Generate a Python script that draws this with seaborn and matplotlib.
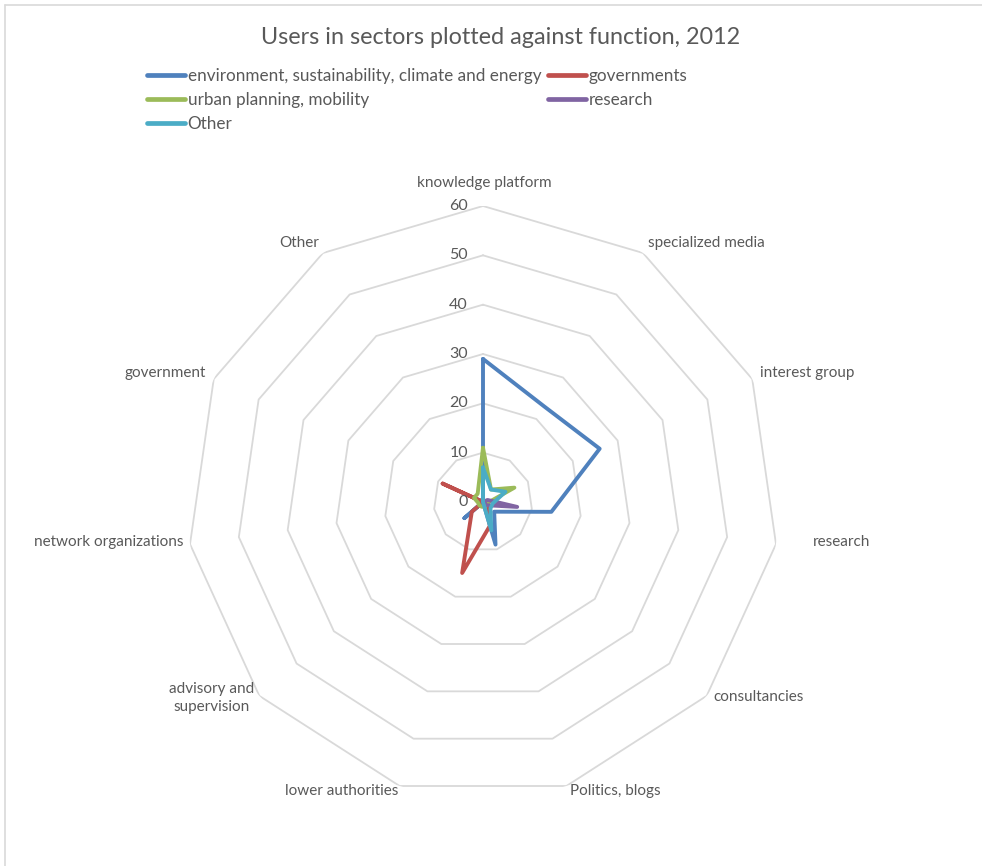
import numpy as np
import pandas as pd
import matplotlib
matplotlib.use("Agg")
import matplotlib.pyplot as plt
import seaborn as sns
from matplotlib.lines import Line2D

# Functions (spokes of the radar, clockwise from the top)
categories = [
    "knowledge platform", "specialized media", "interest group", "research",
    "consultancies", "Politics, blogs", "lower authorities",
    "advisory and\nsupervision", "network organizations", "government", "Other",
]

# Sectors (series)
sectors = [
    "environment, sustainability, climate and energy",
    "governments",
    "urban planning, mobility",
    "research",
    "Other",
]

env_values = [29, 23, 26, 14, 3, 9, 0, 5, 0, 2, 0]
gov_values = [0, 0, 0, 1, 1, 5, 15, 3, 0, 9, 0]
urban_values = [11, 3, 7, 1, 1, 1, 1, 1, 1, 2, 2]
research_values = [0, 0, 1, 7, 1, 0, 0, 0, 0, 0, 0]
other_values = [7, 3, 5, 2, 2, 6, 0, 0, 0, 0, 0]

series_values = [env_values, gov_values, urban_values, research_values, other_values]
colors = ["#4F81BD", "#C0504D", "#9BBB59", "#8064A2", "#4BACC6"]

radial_ticks = [0, 10, 20, 30, 40, 50, 60]
title = "Users in sectors plotted against function, 2012"

sns.set_style("white")
plt.rcParams["font.family"] = ["Lato", "DejaVu Sans"]
text_color = "#595959"

W, H = 982, 866
fig = plt.figure(figsize=(W / 100, H / 100), dpi=100)

# polar axes centred at (483, 502) px with a 296 px outer radius
cx, cy, R = 483, 502, 296
ax = fig.add_axes([(cx - R) / W, (H - cy - R) / H, 2 * R / W, 2 * R / H], projection="polar")
ax.set_theta_zero_location("N")
ax.set_theta_direction(-1)
ax.grid(False)
ax.spines["polar"].set_visible(False)
ax.patch.set_alpha(0)

n = len(categories)
angles = np.arange(n) * 2 * np.pi / n
closed_angles = np.append(angles, angles[0] + 2 * np.pi)

# polygonal gridlines
for lvl in radial_ticks[1:]:
    ax.plot(closed_angles, [lvl] * (n + 1), color="#d9d9d9", lw=1.3, zorder=1)

# long-form table of the series, each loop closed back at the first spoke
rows = []
for sector, vals in zip(sectors, series_values):
    closed_vals = list(vals) + [vals[0]]
    for i, (a, v) in enumerate(zip(closed_angles, closed_vals)):
        rows.append({"sector": sector, "theta": a, "value": v, "order": i})
df = pd.DataFrame(rows)

sns.lineplot(
    data=df, x="theta", y="value", hue="sector", hue_order=sectors,
    palette=dict(zip(sectors, colors)), sort=False, estimator=None,
    linewidth=2.8, legend=False, ax=ax, zorder=3,
)
ax.set_ylim(0, 60)
ax.set_xticks([])
ax.set_yticks([])
ax.set_xlabel("")
ax.set_ylabel("")

# radial value labels along the top spoke
for t in radial_ticks:
    ax.annotate(str(t), xy=(0, t), xytext=(-15 * 0.72, 0), textcoords="offset points",
                ha="right", va="center", fontsize=11.5, color=text_color,
                annotation_clip=False)

# spoke labels: pixel offset from the outer vertex and alignment
label_place = [
    (1, -23, "center"),
    (5, -10, "left"),
    (8, -6, "left"),
    (37, -2, "left"),
    (7, 1, "left"),
    (4, 5, "left"),
    (-1, 5, "right"),
    (-5, 2, "right"),
    (-7, -2, "right"),
    (-8, -6, "right"),
    (-4, -10, "right"),
]
for a, lab, (dx, dy, ha) in zip(angles, categories, label_place):
    ax.annotate(lab, xy=(a, 60), xytext=(dx * 0.72, -dy * 0.72), textcoords="offset points",
                ha=ha, va="center", fontsize=11, color=text_color,
                multialignment="center", annotation_clip=False, linespacing=1.35)

fig.text(501 / W, 1 - 38 / H, title, ha="center", va="center", fontsize=16.8, color=text_color)

# legend in row-major order across two columns
handles = [Line2D([], [], color=c, lw=3.4, solid_capstyle="round") for c in colors]
order = [0, 2, 4, 1, 3]
leg = fig.legend(
    [handles[i] for i in order], [sectors[i] for i in order],
    ncol=2, loc="upper left", bbox_to_anchor=(147 / W, 1 - 68 / H),
    frameon=False, fontsize=12.3, handlelength=2.2, handletextpad=0.18,
    columnspacing=0.4, labelspacing=0.47, borderpad=0, borderaxespad=0,
)
for t in leg.get_texts():
    t.set_color(text_color)

# chart-area outline along the top and left edges
fig.add_artist(Line2D([5 / W, 5 / W], [0, 1 - 5 / H], transform=fig.transFigure, color="#d9d9d9", lw=1.2))
fig.add_artist(Line2D([5 / W, 1], [1 - 5 / H, 1 - 5 / H], transform=fig.transFigure, color="#d9d9d9", lw=1.2))

fig.savefig("out.png", dpi=100, facecolor="white")
